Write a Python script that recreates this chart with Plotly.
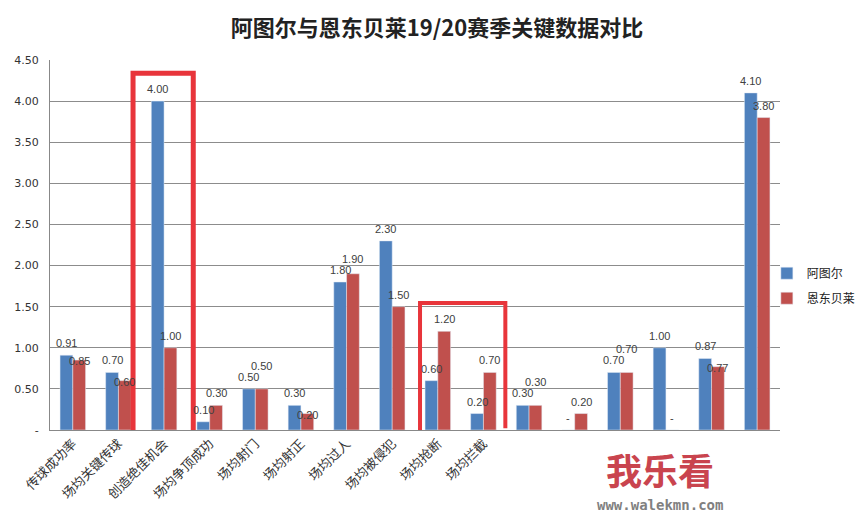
import plotly.graph_objects as go

categories = ['传球成功率', '场均关键传球', '创造绝佳机会', '场均争顶成功', '场均射门',
              '场均射正', '场均过人', '场均被侵犯', '场均抢断', '场均拦截',
              '', '', '', '', '', '']
atuer = [0.91, 0.70, 4.00, 0.10, 0.50, 0.30, 1.80, 2.30, 0.60, 0.20,
         0.30, 0.00, 0.70, 1.00, 0.87, 4.10]
ndombele = [0.85, 0.60, 1.00, 0.30, 0.50, 0.20, 1.90, 1.50, 1.20, 0.70,
            0.30, 0.20, 0.70, 0.00, 0.77, 3.80]
y_ticks = [0, 0.5, 1.0, 1.5, 2.0, 2.5, 3.0, 3.5, 4.0, 4.5]

x = list(range(len(categories)))

# 画布尺寸（页面有8px边距）
W, H = 858, 516
ML, MR, MT, MB = 42, 86, 52, 94
plot_w = W - ML - MR
plot_h = H - MT - MB
BARGAP = 0.44
px_per_unit = plot_h / max(y_ticks)
half_bar = plot_w / len(x) * (1 - BARGAP) / 4


def fmt(v):
    return f'{v:.2f}' if v else '-'


fig = go.Figure()
fig.add_trace(go.Bar(x=x, y=atuer, name='阿图尔', marker_color='#4F81BD',
                     legendgroup='a'))
fig.add_trace(go.Bar(x=x, y=ndombele, name='恩东贝莱', marker_color='#C0504D',
                     legendgroup='b'))

# 数据标签（仿 Excel：与相邻标签重叠时错开）
lab_font = dict(size=11, color='#404040', family='Liberation Sans')
for i, (a, b) in enumerate(zip(atuer, ndombele)):
    fig.add_annotation(x=i, y=a, text=fmt(a), showarrow=False, xshift=-half_bar,
                       yshift=12, yanchor='middle', font=lab_font)
    ha, hb = a * px_per_unit, b * px_per_unit
    shift = 12
    if a and b and abs(hb - ha) < 9:
        shift = (ha + 23 - hb) if hb >= ha else -1
    fig.add_annotation(x=i, y=b, text=fmt(b), showarrow=False, xshift=half_bar,
                       yshift=shift, yanchor='middle', font=lab_font)

# 红框标注
red = '#E8353B'
fig.add_shape(type='rect', xref='x', yref='y', x0=1.32, x1=2.64, y0=-0.18, y1=4.34,
              line=dict(color=red, width=5))
fig.add_shape(type='path', xref='x', yref='y',
              path='M 8.82,-0.06 L 7.61,-0.06 L 7.61,1.545 L 9.48,1.545 L 9.48,0.02',
              line=dict(color=red, width=4))

# 水印
fig.add_annotation(text='<b>我乐看</b>', xref='paper', yref='paper', x=0.836, y=-0.105,
                   xanchor='center', yanchor='middle', showarrow=False,
                   font=dict(size=36, color='#C9444E', family='Noto Sans CJK SC'))
fig.add_annotation(text='<b>www.walekmn.com</b>', xref='paper', yref='paper', x=0.836, y=-0.202,
                   xanchor='center', yanchor='middle', showarrow=False,
                   font=dict(size=14, color='#808080', family='DejaVu Sans Mono'))

fig.update_layout(
    title=dict(text='<b>阿图尔与恩东贝莱19/20赛季关键数据对比</b>', x=0.5, y=1 - 20 / H,
               xanchor='center', yanchor='middle',
               font=dict(size=22, color='#222', family='Noto Sans CJK SC')),
    width=W, height=H,
    margin=dict(l=ML, r=MR, t=MT, b=MB, autoexpand=False),
    plot_bgcolor='white', paper_bgcolor='white',
    font=dict(family='Noto Sans CJK SC', color='#333', size=11),
    barmode='group', bargap=BARGAP, bargroupgap=0,
    legend=dict(x=0.982, y=0.39, xanchor='left', yanchor='middle',
                bgcolor='rgba(0,0,0,0)',
                font=dict(size=12, color='#222'), itemwidth=30, tracegroupgap=6),
    showlegend=True,
)
fig.update_xaxes(tickvals=x, ticktext=categories, tickangle=-45, automargin=False,
                 tickfont=dict(size=13, color='#333'),
                 range=[-0.5, len(categories) - 0.5],
                 showline=True, linecolor='#888', linewidth=1, ticks='')
fig.update_yaxes(range=[0, max(y_ticks)], tickvals=y_ticks, automargin=False,
                 ticktext=['-'] + [f'{v:.2f}' for v in y_ticks[1:]],
                 tickfont=dict(size=11, color='#333', family='DejaVu Sans'),
                 ticklabelstandoff=8,
                 showgrid=True, gridcolor='#8c8c8c', gridwidth=1,
                 showline=True, linecolor='#888', linewidth=1, zeroline=False)

fig.write_html('out.html')
